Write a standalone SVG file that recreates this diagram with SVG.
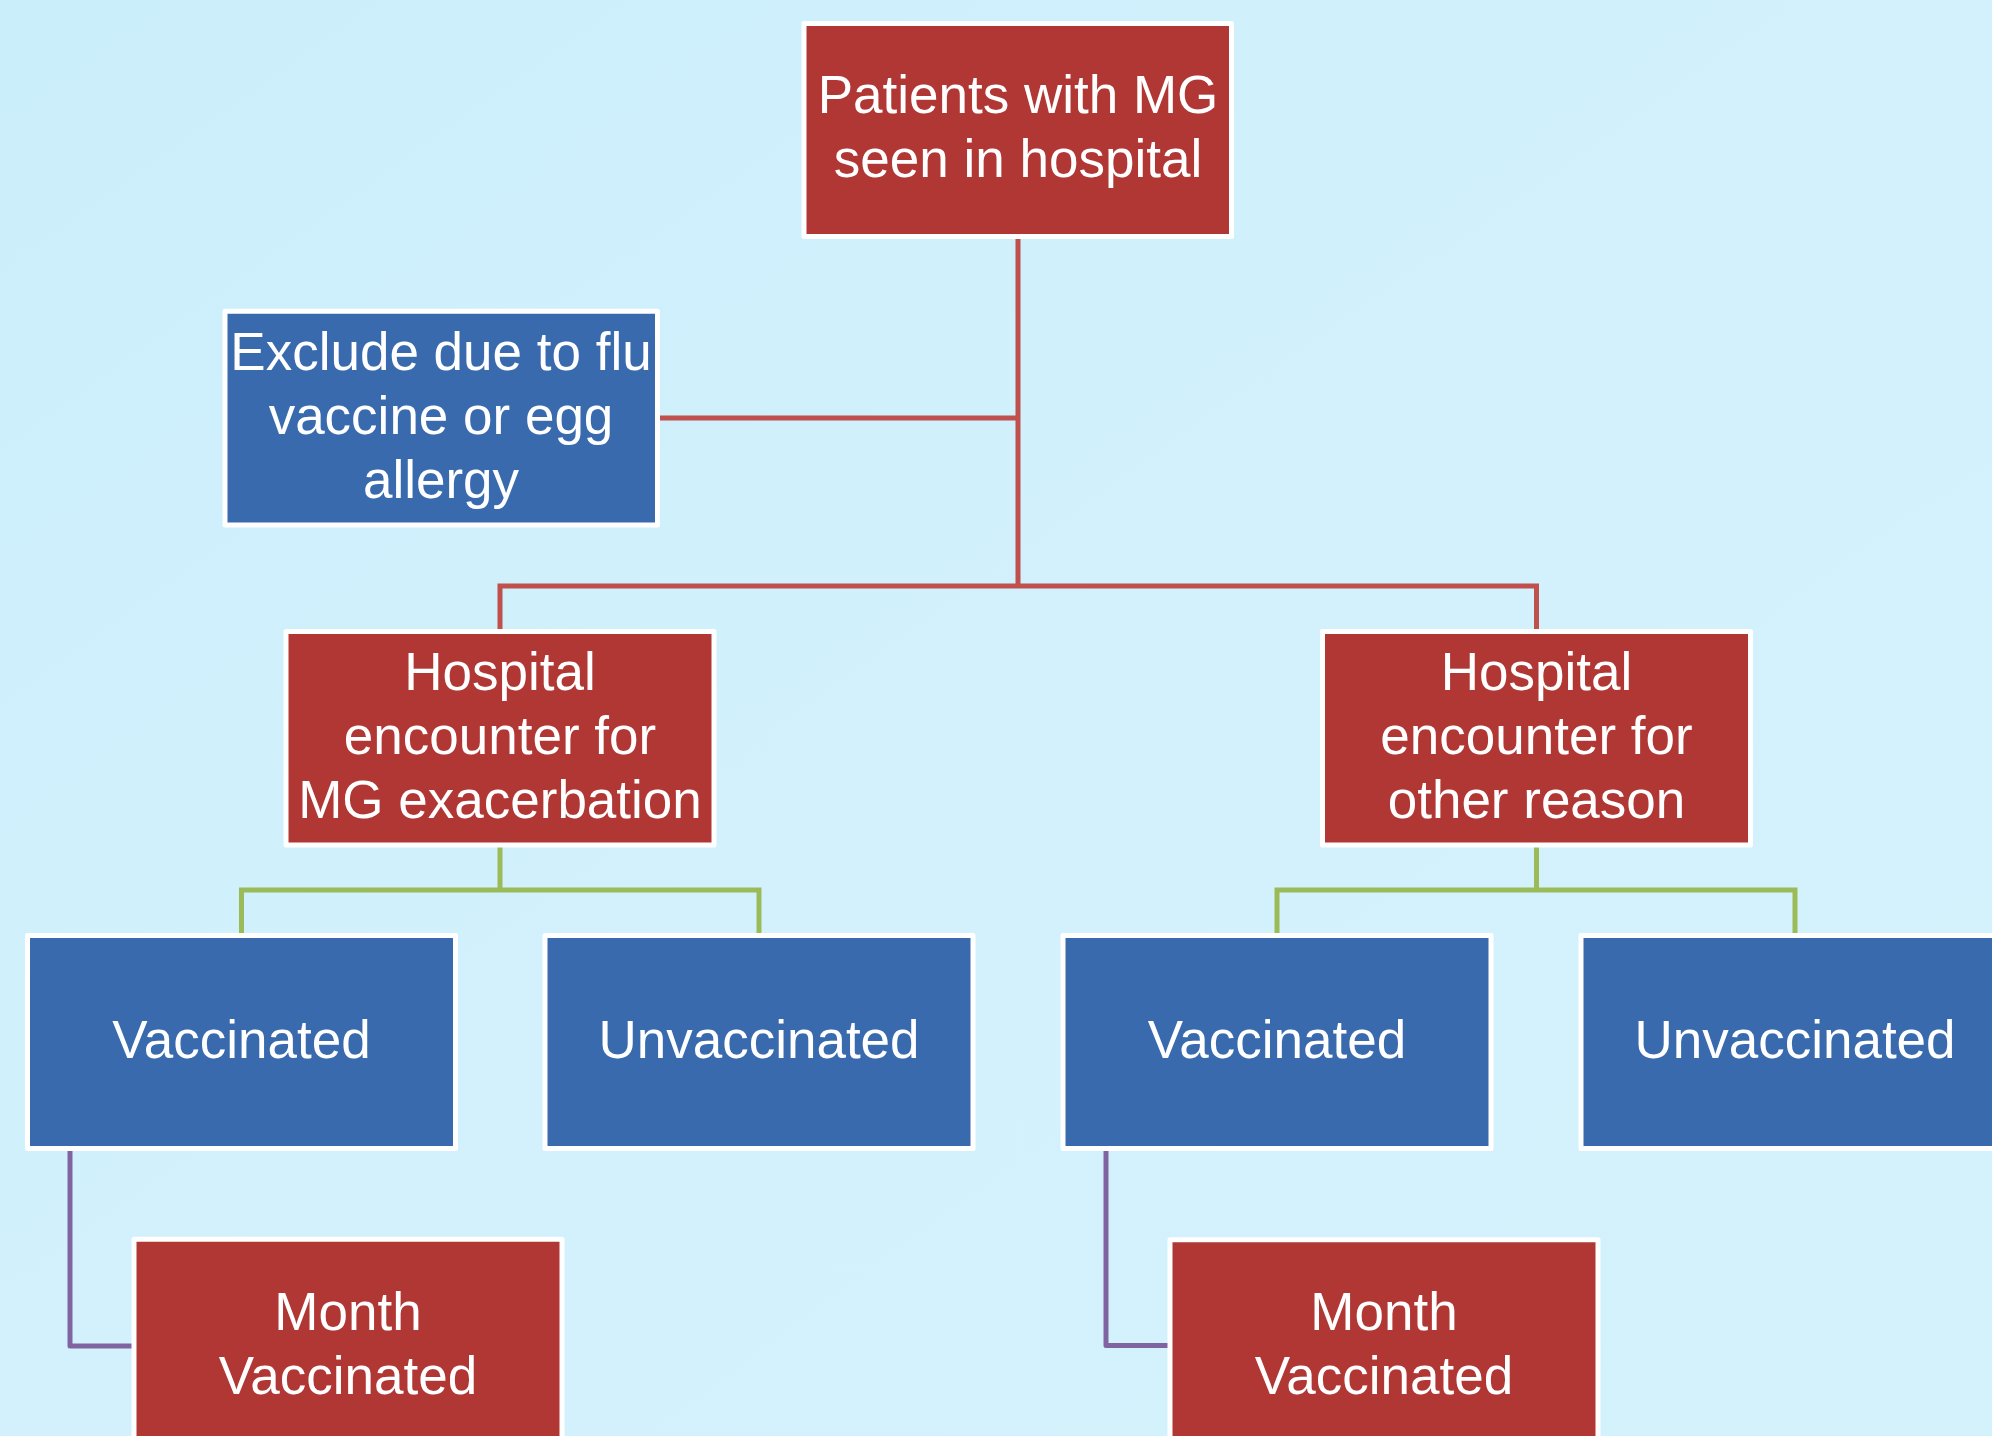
<svg xmlns="http://www.w3.org/2000/svg" width="1992" height="1436" viewBox="0 0 1992 1436">
<defs>
<linearGradient id="bg" x1="0" y1="0" x2="1" y2="1">
<stop offset="0" stop-color="#CBEEFB"/>
<stop offset="0.5" stop-color="#D2F1FC"/>
<stop offset="1" stop-color="#D3F2FC"/>
</linearGradient>
</defs>
<style>
.red{fill:#B03734;stroke:#FFFFFF;stroke-width:5;stroke-linejoin:round}
.blue{fill:#386AAD;stroke:#FFFFFF;stroke-width:5;stroke-linejoin:round}
.t{font-family:"Liberation Sans",Arial,sans-serif;font-size:53px;fill:#FFFFFF;text-anchor:middle}
.cr{fill:none;stroke:#C0504D;stroke-width:5}
.cg{fill:none;stroke:#9BBB59;stroke-width:5}
.cp{fill:none;stroke:#8064A2;stroke-width:5;stroke-linejoin:round}
</style>
<rect x="0" y="0" width="1992" height="1436" fill="url(#bg)"/>
<g id="connectors">
<path class="cr" d="M1018 236.5 V586"/>
<path class="cr" d="M657.5 418 H1018"/>
<path class="cr" d="M500 631.5 V586 H1536.5 V631.5"/>
<path class="cg" d="M500 845 V890"/>
<path class="cg" d="M241.5 935.5 V890 H759 V935.5"/>
<path class="cg" d="M1536.5 845 V890"/>
<path class="cg" d="M1277 935.5 V890 H1795 V935.5"/>
<path class="cp" d="M70 1148.5 V1346 H134"/>
<path class="cp" d="M1106 1148.5 V1345.5 H1170"/>
</g>
<g id="n-top">
<rect class="red" x="804" y="23.5" width="427.5" height="213"/>
<text class="t" x="1018" y="113">Patients with MG</text>
<text class="t" x="1018" y="177">seen in hospital</text>
</g>
<g id="n-exclude">
<rect class="blue" x="225" y="311.3" width="432.5" height="213.7"/>
<text class="t" x="441" y="370">Exclude due to flu</text>
<text class="t" x="441" y="433.5">vaccine or egg</text>
<text class="t" x="441" y="497.5">allergy</text>
</g>
<g id="n-hosp-mg">
<rect class="red" x="286" y="631.5" width="428" height="213.5"/>
<text class="t" x="500" y="690">Hospital</text>
<text class="t" x="500" y="754">encounter for</text>
<text class="t" x="500" y="818">MG exacerbation</text>
</g>
<g id="n-hosp-other">
<rect class="red" x="1322.5" y="631.5" width="428" height="213.5"/>
<text class="t" x="1536.5" y="690">Hospital</text>
<text class="t" x="1536.5" y="754">encounter for</text>
<text class="t" x="1536.5" y="818">other reason</text>
</g>
<g id="n-vacc-1">
<rect class="blue" x="27.5" y="935.5" width="428" height="213"/>
<text class="t" x="241.5" y="1058">Vaccinated</text>
</g>
<g id="n-unvacc-1">
<rect class="blue" x="545" y="935.5" width="428" height="213"/>
<text class="t" x="759" y="1058">Unvaccinated</text>
</g>
<g id="n-vacc-2">
<rect class="blue" x="1063" y="935.5" width="428" height="213"/>
<text class="t" x="1277" y="1058">Vaccinated</text>
</g>
<g id="n-unvacc-2">
<rect class="blue" x="1581" y="935.5" width="428" height="213"/>
<text class="t" x="1795" y="1058">Unvaccinated</text>
</g>
<g id="n-month-1">
<rect class="red" x="134" y="1239.2" width="428" height="213"/>
<text class="t" x="348" y="1330">Month</text>
<text class="t" x="348" y="1394">Vaccinated</text>
</g>
<g id="n-month-2">
<rect class="red" x="1170" y="1239.7" width="428" height="213"/>
<text class="t" x="1384" y="1330">Month</text>
<text class="t" x="1384" y="1394">Vaccinated</text>
</g>
</svg>
